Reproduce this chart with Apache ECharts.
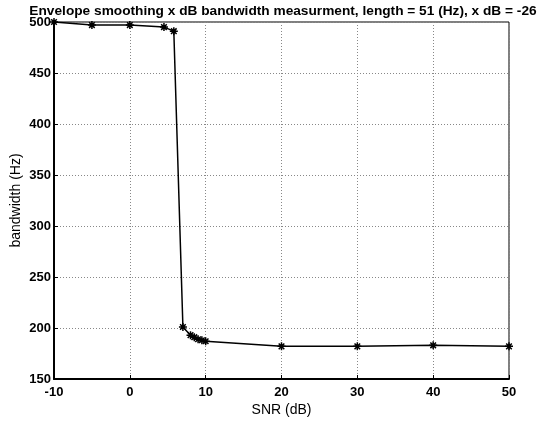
<!DOCTYPE html>
<html><head><meta charset="utf-8">
<script src="https://cdn.jsdelivr.net/npm/echarts@6/dist/echarts.min.js"></script>
<style>html,body{margin:0;padding:0;background:#fff}#c{width:550px;height:424px}</style>
</head><body><div id="c"></div>
<script>
const snr = [-10, -5, 0, 4.5, 5.8, 7, 8, 8.5, 9, 9.5, 10, 20, 30, 40, 50];
const bandwidth = [500, 497, 497, 495, 491, 201, 193, 191, 189, 188, 187, 182, 182, 183, 182];
const xTicks = [-10, 0, 10, 20, 30, 40, 50];
const yTicks = [150, 200, 250, 300, 350, 400, 450, 500];
const titleText = 'Envelope smoothing x dB bandwidth measurment, length = 51 (Hz), x dB = -26';

const font = 'Liberation Sans, Arial, Helvetica, sans-serif';
const chart = echarts.init(document.getElementById('c'), null, {renderer: 'canvas'});
const star = 'path://M0,-5L0,5M-5,0L5,0M-3.5,-3.5L3.5,3.5M-3.5,3.5L3.5,-3.5';
chart.setOption({
  animation: false,
  backgroundColor: '#fff',
  title: {text: titleText, left: 278, top: -1, textAlign: 'center',
    textStyle: {fontFamily: font, fontSize: 13.7, fontWeight: 'bold', color: '#000'}},
  grid: {left: 54, right: 41, top: 22, bottom: 45, containLabel: false, outerBoundsMode: 'none',
    show: true, borderColor: '#000', borderWidth: 1, backgroundColor: 'transparent'},
  xAxis: {type: 'value', min: -10, max: 50, interval: 10,
    name: 'SNR (dB)', nameLocation: 'middle', nameGap: 24, nameMoveOverlap: false,
    nameTextStyle: {fontFamily: font, fontSize: 14, color: '#000'},
    axisLine: {show: true, onZero: false, lineStyle: {color: '#000', width: 2}},
    axisTick: {show: true, inside: true, length: 4, lineStyle: {color: '#000'}},
    axisLabel: {fontFamily: font, fontSize: 13, color: '#000', margin: 7, fontWeight: 'bold',
      formatter: v => xTicks.includes(v) ? String(v) : ''},
    splitLine: {show: true, lineStyle: {color: '#888', type: [1, 2], width: 1}}},
  yAxis: {type: 'value', min: 150, max: 500, interval: 50,
    name: 'bandwidth (Hz)', nameLocation: 'middle', nameGap: 31, nameRotate: 90, nameMoveOverlap: false,
    nameTextStyle: {fontFamily: font, fontSize: 14, color: '#000'},
    axisLine: {show: true, onZero: false, lineStyle: {color: '#000', width: 2}},
    axisTick: {show: true, inside: true, length: 4, lineStyle: {color: '#000'}},
    axisLabel: {fontFamily: font, fontSize: 13, color: '#000', margin: 3, fontWeight: 'bold',
      formatter: v => yTicks.includes(v) ? String(v) : ''},
    splitLine: {show: true, lineStyle: {color: '#888', type: [1, 2], width: 1}}},
  series: [{
    type: 'line',
    data: snr.map((x, i) => [x, bandwidth[i]]),
    lineStyle: {color: '#000', width: 1.5},
    symbol: star, symbolSize: 8, showAllSymbol: true,
    itemStyle: {color: '#000', borderColor: '#000', borderWidth: 1.5}
  }]
});
</script></body></html>
